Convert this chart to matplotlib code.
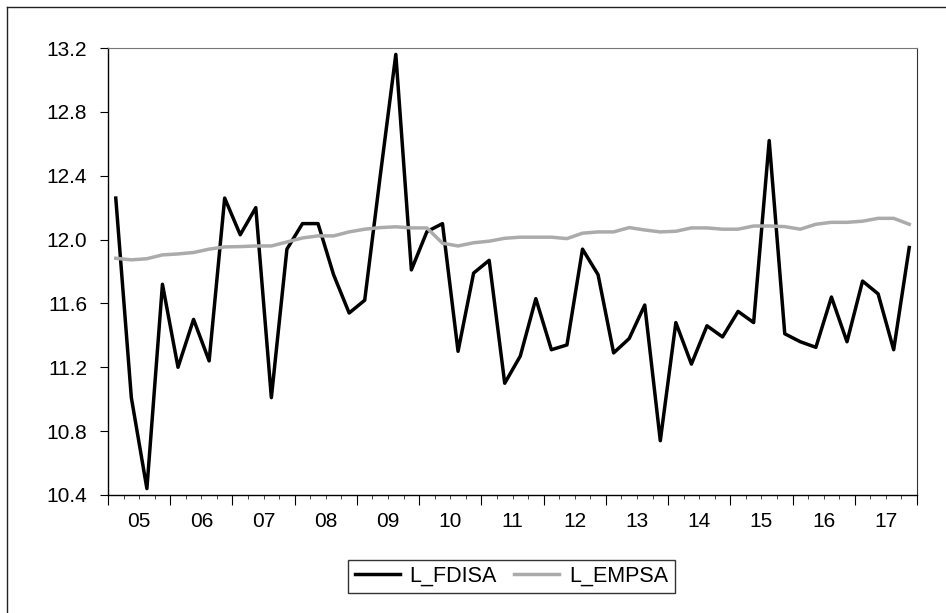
#!/usr/bin/env python3
import matplotlib
matplotlib.use("Agg")
import matplotlib.pyplot as plt
from matplotlib.lines import Line2D
import numpy as np

plt.rcParams["font.family"] = ["Liberation Sans", "DejaVu Sans"]

# quarterly, 2005Q1 .. 2017Q4
years = ["05", "06", "07", "08", "09", "10", "11", "12", "13", "14", "15", "16", "17"]

l_fdisa = [12.26, 11.01, 10.44, 11.72, 11.20, 11.50, 11.24, 12.26,
           12.03, 12.20, 11.01, 11.94, 12.10, 12.10, 11.78, 11.54,
           11.62, 12.40, 13.16, 11.81, 12.05, 12.10, 11.30, 11.79,
           11.87, 11.10, 11.27, 11.63, 11.31, 11.34, 11.94, 11.78,
           11.29, 11.38, 11.59, 10.74, 11.48, 11.22, 11.46, 11.39,
           11.55, 11.48, 12.62, 11.41, 11.36, 11.325, 11.64, 11.36,
           11.74, 11.66, 11.31, 11.95]

l_empsa = [11.883, 11.873, 11.880, 11.904, 11.910, 11.919, 11.940, 11.954,
           11.956, 11.960, 11.960, 11.985, 12.010, 12.023, 12.023, 12.048,
           12.065, 12.075, 12.080, 12.073, 12.073, 11.977, 11.960, 11.980,
           11.990, 12.008, 12.015, 12.015, 12.015, 12.006, 12.040, 12.048,
           12.048, 12.075, 12.060, 12.048, 12.052, 12.073, 12.073, 12.065,
           12.065, 12.085, 12.085, 12.081, 12.065, 12.096, 12.108, 12.108,
           12.115, 12.133, 12.133, 12.096]

W, H = 946, 613
fig = plt.figure(figsize=(W / 100, H / 100), dpi=100)
ax = fig.add_axes([108 / W, 1 - 495 / H, (917 - 108) / W, (495 - 48) / H])

n = len(l_fdisa)
x = np.arange(n) + 0.5
ax.plot(x, l_fdisa, color="black", lw=2.5, label="L_FDISA")
ax.plot(x, l_empsa, color="#ababab", lw=2.5, label="L_EMPSA")

ax.set_xlim(0, n)
ax.set_ylim(10.4, 13.2)
yt = np.arange(10.4, 13.21, 0.4)
ax.set_yticks(yt)
ax.set_yticklabels([f"{v:.1f}" for v in yt])
ax.tick_params(axis="y", direction="out", length=6, width=0.8, pad=9, labelsize=15)

# year boundaries as major ticks, quarters as minor ticks
ax.set_xticks(np.arange(0, n + 1, 4))
ax.set_xticklabels([])
ax.set_xticks(np.arange(0, n + 1, 1), minor=True)
ax.tick_params(axis="x", which="major", direction="out", length=7, width=0.8)
ax.tick_params(axis="x", which="minor", direction="out", length=3, width=0.7,
               color="#444444")

lab = ax.secondary_xaxis("bottom")
lab.set_xticks(np.arange(2, n, 4))
lab.set_xticklabels(years)
lab.tick_params(length=0, pad=12, labelsize=15)
lab.spines["bottom"].set_visible(False)

for s in ("left", "bottom"):
    ax.spines[s].set_color("black")
    ax.spines[s].set_linewidth(1.0)
ax.spines["top"].set_color("#777777")
ax.spines["right"].set_color("#333333")

leg = ax.legend(loc="center", bbox_to_anchor=(511.5 / W, 1 - 576.5 / H),
                bbox_transform=fig.transFigure, ncol=2, fontsize=15.5,
                frameon=True, fancybox=False, handlelength=2.1,
                handletextpad=0.45, columnspacing=0.8, borderpad=0.3,
                borderaxespad=0)
leg.get_frame().set_edgecolor("black")
leg.get_frame().set_linewidth(1.0)

# outer frame (left and top edges visible)
fig.add_artist(Line2D([7 / W, 7 / W], [0, 1 - 7 / H], color="#222222", lw=1.0,
                      transform=fig.transFigure))
fig.add_artist(Line2D([7 / W, 1], [1 - 7 / H, 1 - 7 / H], color="#222222", lw=1.0,
                      transform=fig.transFigure))

fig.savefig("out.png", dpi=100)
